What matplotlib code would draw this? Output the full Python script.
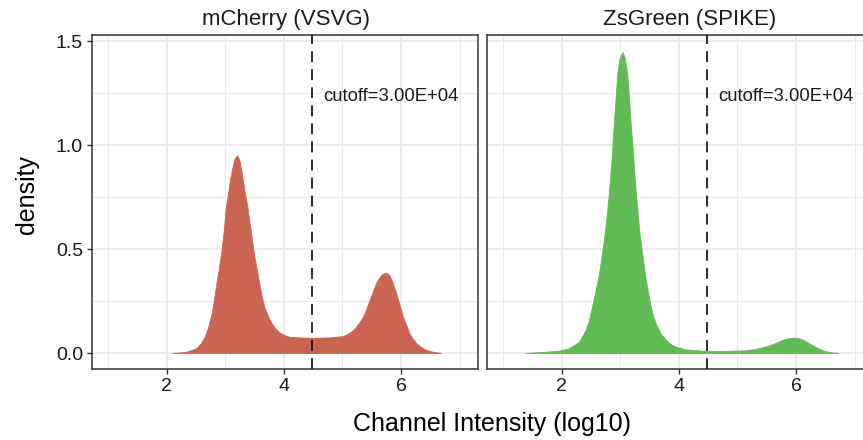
import matplotlib
matplotlib.use("Agg")
import matplotlib.pyplot as plt
from matplotlib.ticker import MultipleLocator

plt.rcParams['font.family'] = ['Liberation Sans', 'DejaVu Sans']

# panel titles, colours and cutoff
panels = ["mCherry (VSVG)", "ZsGreen (SPIKE)"]
fill_colors = ["#CB6553", "#61BB54"]
cutoff_x = 4.48
cutoff_label = "cutoff=3.00E+04"

# density curves (log10 intensity, density)
mcherry_x = [2.10, 2.20, 2.34, 2.51, 2.58, 2.65, 2.71, 2.77, 2.81, 2.85, 2.90, 2.94, 2.98,
             3.01, 3.05, 3.08, 3.12, 3.16, 3.20, 3.24, 3.28, 3.33, 3.38, 3.42, 3.46, 3.50,
             3.55, 3.59, 3.63, 3.67, 3.73, 3.79, 3.86, 3.93, 4.01, 4.10, 4.27, 4.50, 4.78,
             5.01, 5.10, 5.18, 5.27, 5.35, 5.41, 5.46, 5.52, 5.57, 5.62, 5.66, 5.71, 5.75,
             5.80, 5.86, 5.91, 5.95, 5.99, 6.03, 6.09, 6.14, 6.20, 6.26, 6.33, 6.40, 6.54,
             6.68]
mcherry_y = [0.000, 0.002, 0.006, 0.023, 0.045, 0.078, 0.125, 0.190, 0.260, 0.335, 0.420,
             0.500, 0.600, 0.700, 0.770, 0.830, 0.890, 0.935, 0.952, 0.930, 0.870, 0.780,
             0.700, 0.620, 0.540, 0.460, 0.385, 0.320, 0.265, 0.220, 0.178, 0.143, 0.118,
             0.098, 0.086, 0.078, 0.075, 0.073, 0.075, 0.082, 0.094, 0.110, 0.140, 0.175,
             0.215, 0.255, 0.297, 0.335, 0.360, 0.375, 0.385, 0.386, 0.375, 0.335, 0.292,
             0.255, 0.215, 0.175, 0.133, 0.095, 0.068, 0.047, 0.030, 0.018, 0.006, 0.000]

zsgreen_x = [1.38, 1.67, 1.95, 2.12, 2.30, 2.41, 2.47, 2.52, 2.58, 2.64, 2.68, 2.72, 2.77,
             2.81, 2.85, 2.88, 2.92, 2.95, 2.99, 3.04, 3.08, 3.12, 3.15, 3.18, 3.22, 3.25,
             3.29, 3.33, 3.38, 3.42, 3.47, 3.52, 3.57, 3.63, 3.70, 3.78, 3.86, 3.95, 4.10,
             4.40, 4.80, 5.14, 5.35, 5.54, 5.66, 5.77, 5.88, 6.00, 6.11, 6.23, 6.34, 6.45,
             6.58, 6.71]
zsgreen_y = [0.000, 0.005, 0.011, 0.022, 0.054, 0.110, 0.160, 0.223, 0.300, 0.383, 0.460,
             0.540, 0.660, 0.780, 0.920, 1.056, 1.220, 1.345, 1.420, 1.449, 1.420, 1.345,
             1.230, 1.100, 0.960, 0.830, 0.700, 0.575, 0.470, 0.383, 0.300, 0.223, 0.170,
             0.126, 0.090, 0.063, 0.043, 0.030, 0.018, 0.011, 0.010, 0.013, 0.022, 0.037,
             0.050, 0.064, 0.072, 0.074, 0.065, 0.045, 0.028, 0.013, 0.004, 0.000]

curves = [(mcherry_x, mcherry_y), (zsgreen_x, zsgreen_y)]

x_ticks = [2, 4, 6]
y_ticks = [0.0, 0.5, 1.0, 1.5]
y_tick_labels = ["0.0", "0.5", "1.0", "1.5"]

fig = plt.figure(figsize=(8.63, 4.40), dpi=100)
W, H = 863.0, 440.0
top, bottom = 35, 369
axes_boxes = [(92, 386), (487, 386)]

for i, (name, color, (cx, cy)) in enumerate(zip(panels, fill_colors, curves)):
    left, width = axes_boxes[i]
    ax = fig.add_axes([left / W, 1 - bottom / H, width / W, (bottom - top) / H])
    ax.set_xlim(0.73, 7.31)
    ax.set_ylim(-0.077, 1.531)

    ax.set_xticks(x_ticks)
    ax.set_xticklabels([str(t) for t in x_ticks])
    ax.xaxis.set_minor_locator(MultipleLocator(1))
    ax.set_yticks(y_ticks)
    ax.yaxis.set_minor_locator(MultipleLocator(0.25))

    ax.grid(which="major", color="#EBEBEB", linewidth=1.4)
    ax.grid(which="minor", color="#EBEBEB", linewidth=0.7)
    ax.set_axisbelow(True)
    ax.tick_params(which="minor", length=0)
    ax.tick_params(which="major", length=3.5, width=1.0, color="#333333",
                   labelsize=14, labelcolor="#1A1A1A", pad=3)
    if i == 0:
        ax.set_yticklabels(y_tick_labels)
    else:
        ax.set_yticklabels([])
        ax.tick_params(axis="y", which="major", length=0)
    for s in ax.spines.values():
        s.set_color("#333333")
        s.set_linewidth(1.1)

    ax.fill_between(cx, cy, 0, color=color, linewidth=0.6, edgecolor=color, zorder=2)
    ax.axvline(cutoff_x, color="#1A1A1A", linestyle=(0, (6, 4)), linewidth=1.3, zorder=3)
    ax.text(cutoff_x + 0.19, 1.235, cutoff_label, fontsize=13.3, color="#1A1A1A",
            ha="left", va="center", zorder=4)

fig.text(286 / W, 1 - 20 / H, panels[0], ha="center", va="center", fontsize=16,
         color="#1A1A1A")
fig.text(690 / W, 1 - 20 / H, panels[1], ha="center", va="center", fontsize=16,
         color="#1A1A1A")
fig.text(492 / W, 1 - 424 / H, "Channel Intensity (log10)", ha="center", va="center",
         fontsize=18, color="#000000")
fig.text(27 / W, 1 - 195 / H, "density", ha="center", va="center", rotation=90,
         fontsize=18, color="#000000")

fig.savefig("out.png", dpi=100)
